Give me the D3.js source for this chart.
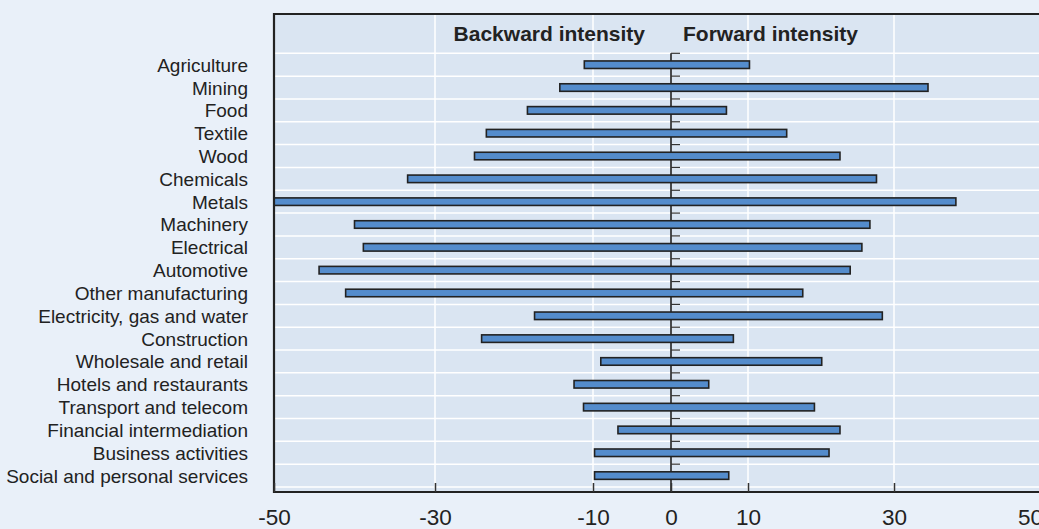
<!DOCTYPE html>
<html>
  <head>
    <meta charset="utf-8">
    <style>
    body {
      margin: 0;
      background: #e9f0f9;
      font-family: "Liberation Sans", Arial, sans-serif;
    }
    .grid line {
      stroke: #ffffff;
      stroke-width: 1.5px;
    }
    .bar {
      fill: #548ccc;
      stroke: #222;
      stroke-width: 1.6px;
    }
    .cat {
      font-size: 19px;
      fill: #222;
    }
    .tick text {
      font-family: "Liberation Sans", Arial, sans-serif;
      font-size: 22.5px;
      fill: #222;
    }
    .title {
      font-size: 21px;
      font-weight: bold;
      fill: #222;
    }
    </style>
  </head>

  <body>
    <script src="https://d3js.org/d3.v7.min.js"></script>
    <script>

    // categories, top to bottom
    var categories = ["Agriculture", "Mining", "Food", "Textile", "Wood", "Chemicals",
      "Metals", "Machinery", "Electrical", "Automotive", "Other manufacturing",
      "Electricity, gas and water", "Construction", "Wholesale and retail",
      "Hotels and restaurants", "Transport and telecom", "Financial intermediation",
      "Business activities", "Social and personal services"];

    // backward intensity (drawn to the left)
    var backward = [-11.1, -14.2, -18.3, -23.5, -25.0, -33.4, -50.0, -40.0, -38.9, -44.4,
      -41.1, -17.4, -24.1, -9.0, -12.4, -11.2, -6.8, -9.8, -9.8];

    // forward intensity (drawn to the right)
    var forward = [10.2, 35.0, 7.2, 15.3, 22.6, 27.6, 39.1, 26.7, 25.6, 24.0,
      17.5, 28.4, 8.1, 20.1, 4.9, 19.1, 22.6, 21.1, 7.5];

    var tickValues = [-50, -30, -10, 0, 10, 30, 50];
    var tickLabels = ["-50", "-30", "-10", "0", "10", "30", "50"];

    var width = 1039, height = 529;
    var plotTop = 14, plotBottom = 492, plotRight = 1060;

    // the printed axis is not evenly spaced, so map each labelled value to its place
    var x = d3.scaleLinear()
        .domain(tickValues)
        .range([274, 435, 593, 671, 748, 894, 1030]);

    var y = d3.scaleBand()
        .domain(categories)
        .range([53.3, 487])
        .paddingInner(0.67)
        .paddingOuter(0.335);

    var svg = d3.select("body").append("svg")
        .attr("width", width)
        .attr("height", height);

    // plot background
    svg.append("rect")
        .attr("x", x(-50))
        .attr("y", plotTop)
        .attr("width", plotRight - x(-50))
        .attr("height", plotBottom - plotTop)
        .attr("fill", "#dae5f2");

    // gridlines
    var grid = svg.append("g").attr("class", "grid");
    var bounds = d3.range(categories.length + 1).map(function(i) { return y.range()[0] + i * y.step(); });
    grid.selectAll(".h").data(bounds).enter().append("line")
        .attr("x1", x(-50)).attr("x2", plotRight)
        .attr("y1", function(d) { return d; })
        .attr("y2", function(d) { return d; });
    var inner = tickValues.filter(function(d) { return d !== 0 && d !== -50 && d !== 50; });
    grid.selectAll(".v").data(inner).enter().append("line")
        .attr("x1", function(d) { return x(d); })
        .attr("x2", function(d) { return x(d); })
        .attr("y1", plotTop)
        .attr("y2", plotBottom);

    // zero line with small ticks between categories
    svg.append("line")
        .attr("x1", x(0)).attr("x2", x(0))
        .attr("y1", bounds[0]).attr("y2", plotBottom)
        .attr("stroke", "#222").attr("stroke-width", 1.6);
    svg.selectAll(".ztick").data(bounds.slice(0, -1)).enter().append("line")
        .attr("x1", x(0)).attr("x2", x(0) + 9)
        .attr("y1", function(d) { return d; })
        .attr("y2", function(d) { return d; })
        .attr("stroke", "#333").attr("stroke-width", 1.2);

    // bars
    svg.selectAll(".bar").data(categories).enter().append("rect")
        .attr("class", "bar")
        .attr("x", function(d, i) { return x(backward[i]); })
        .attr("width", function(d, i) { return x(forward[i]) - x(backward[i]); })
        .attr("y", function(d) { return y(d); })
        .attr("height", y.bandwidth());

    // frame: left, top, bottom
    svg.append("path")
        .attr("d", "M" + plotRight + "," + plotTop + "H" + x(-50) + "V" + plotBottom + "H" + plotRight)
        .attr("fill", "none")
        .attr("stroke", "#222")
        .attr("stroke-width", 2.2);

    // x axis
    var xAxis = svg.append("g")
        .attr("transform", "translate(0," + plotBottom + ")")
        .call(d3.axisBottom(x)
          .tickValues(tickValues)
          .tickSizeInner(-9)
          .tickSizeOuter(0)
          .tickPadding(17)
          .tickFormat(function(d, i) { return tickLabels[i]; }));
    xAxis.select(".domain").remove();
    xAxis.selectAll(".tick line")
        .attr("stroke", "#333").attr("stroke-width", 1.5)
        .attr("display", function(d) { return d === 50 ? "none" : null; });

    // category labels
    svg.selectAll(".cat").data(categories).enter().append("text")
        .attr("class", "cat")
        .attr("x", 248)
        .attr("y", function(d) { return y(d) + y.bandwidth() / 2 + 7; })
        .attr("text-anchor", "end")
        .text(function(d) { return d; });

    // series titles
    svg.append("text")
        .attr("class", "title")
        .attr("x", x(0) - 26)
        .attr("y", 40.5)
        .attr("text-anchor", "end")
        .text("Backward intensity");
    svg.append("text")
        .attr("class", "title")
        .attr("x", x(0) + 12)
        .attr("y", 40.5)
        .text("Forward intensity");

    </script>
  </body>
</html>
